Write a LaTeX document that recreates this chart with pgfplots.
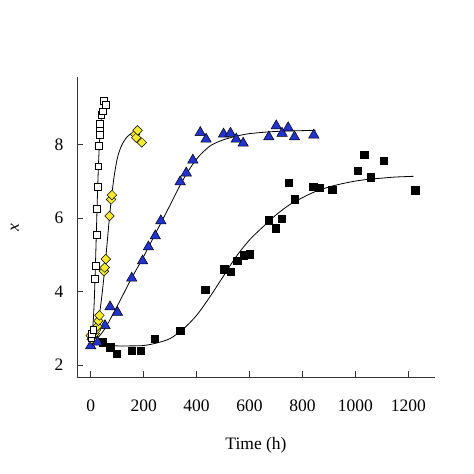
\documentclass[border=0pt]{standalone}
\usepackage{fontspec}
\setmainfont{Liberation Serif}
\usepackage{pgfplots}
\pgfplotsset{compat=1.18}
\definecolor{triblue}{RGB}{35,50,205}
\definecolor{diayel}{RGB}{245,235,45}
\begin{document}
\begin{tikzpicture}[x=1pt,y=1pt]
\begin{axis}[
  scale only axis, width=358pt, height=300.3pt,
  at={(77pt,96.7pt)}, anchor=origin,
  xmin=-51.8, xmax=1300.9, ymin=1.666, ymax=9.83,
  axis x line=bottom, axis y line=left,
  axis line style={-, line width=0.7pt, black!80},
  tick align=inside, major tick length=6pt,
  tick style={line width=0.7pt, black!80},
  xtick={0,200,400,600,800,1000,1200},
  ytick={2,4,6,8},
  /pgf/number format/assume math mode=true,
  /pgf/number format/1000 sep={},
  tick label style={font=\fontsize{17.5}{20}\selectfont},
  xticklabel style={yshift=-19pt},
  yticklabel style={xshift=-10pt},
  xlabel={Time (h)}, ylabel={\textit{x}},
  label style={font=\fontsize{17.5}{20}\selectfont},
  xlabel style={yshift=-19pt},
  ylabel style={yshift=29pt},
  clip=false,
]
\coordinate (ll) at (rel axis cs:0,0);
% fitted curves
\addplot[black, line width=0.8pt, smooth] coordinates {
(0,2.7)(5,2.85)(10,3.25)(14,3.85)(18,4.75)(22,5.75)(26,6.75)(30,7.55)(34,8.15)(38,8.55)(42,8.8)(46,8.95)(50,9.05)};
\addplot[black, line width=0.8pt, smooth] coordinates {
(0,2.7)(10,2.78)(20,2.95)(30,3.25)(40,3.75)(50,4.4)(60,5.15)(70,5.95)(80,6.65)(90,7.2)(100,7.6)(110,7.85)(125,8.08)(140,8.22)(155,8.3)(170,8.34)};
\addplot[black, line width=0.8pt, smooth] coordinates {
(0,2.52)(50,2.95)(100,3.6)(150,4.3)(200,4.95)(250,5.65)(300,6.35)(350,7.05)(400,7.6)(450,7.95)(500,8.12)(550,8.22)(600,8.29)(700,8.35)(850,8.38)};
\addplot[black, line width=0.8pt, smooth] coordinates {
(0,2.62)(50,2.55)(100,2.52)(150,2.52)(200,2.53)(250,2.6)(300,2.72)(350,2.98)(400,3.35)(450,3.85)(500,4.4)(550,4.95)(600,5.4)(650,5.75)(700,6.08)(750,6.35)(800,6.55)(850,6.72)(900,6.84)(950,6.93)(1000,7.0)(1050,7.05)(1100,7.08)(1150,7.11)(1220,7.13)};
% black squares
\addplot[only marks, mark=square*, mark size=3.7pt, mark options={fill=black, draw=black}] coordinates {
(45,2.62)(73,2.48)(98,2.31)(155,2.39)(190,2.39)(241,2.71)(338,2.93)(433,4.05)(504,4.61)(529,4.54)(553,4.83)(578,4.99)(601,5.01)(673,5.94)(698,5.72)(721,5.98)(748,6.96)(771,6.51)(841,6.85)(863,6.82)(913,6.76)(1008,7.28)(1033,7.71)(1058,7.11)(1106,7.55)(1226,6.75)};
% blue triangles
\addplot[only marks, mark=triangle*, mark size=6pt, mark options={fill=triblue, draw=black, line width=0.5pt}] coordinates {
(0,2.52)(25,2.62)(54,3.07)(73,3.58)(101,3.43)(155,4.36)(196,4.83)(218,5.21)(244,5.51)(265,5.92)(338,6.98)(361,7.22)(386,7.57)(414,8.32)(436,8.14)(502,8.28)(528,8.3)(550,8.14)(576,8.03)(673,8.2)(701,8.5)(723,8.3)(746,8.45)(770,8.2)(843,8.25)};
% yellow diamonds
\addplot[only marks, mark=square*, mark size=3.4pt, mark options={rotate=45, fill=diayel, draw=black, line width=0.5pt}] coordinates {
(0,2.8)(4,2.7)(8,2.9)(15,2.85)(20,2.95)(25,3.05)(29,3.2)(33,3.35)(50,4.55)(53,4.65)(57,4.88)(71,6.05)(77,6.5)(80,6.62)(168,8.27)(172,8.18)(177,8.38)(193,8.05)};
% white squares
\addplot[only marks, mark=square*, mark size=3.4pt, mark options={fill=white, draw=black, line width=0.6pt}] coordinates {
(2,2.75)(5,2.85)(10,2.95)(15,4.35)(18,4.7)(22,5.55)(24,6.25)(27,6.85)(29,7.4)(32,7.95)(33,8.25)(34,8.45)(35,8.55)(40,8.8)(46,8.9)(48,9.18)(56,9.08)};
\end{axis}
\path (ll) ++(-77pt,-96.7pt) rectangle ++(474pt,474pt);
\end{tikzpicture}
\end{document}
